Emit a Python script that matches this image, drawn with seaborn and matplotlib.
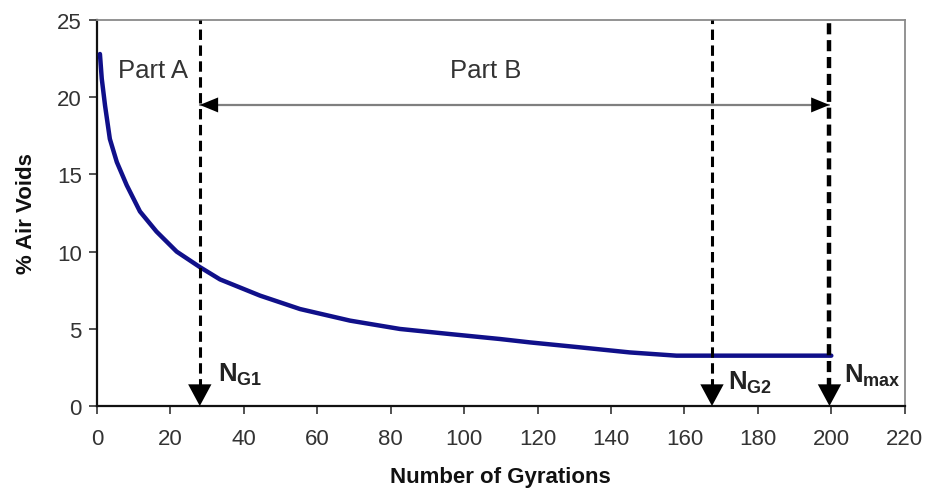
import matplotlib
matplotlib.use("Agg")
import matplotlib.pyplot as plt
import seaborn as sns
import pandas as pd

# ---- data ----
gyrations = [0.8, 1.3, 2.2, 3.5, 5.4, 8.1, 11.7, 16.2, 21.7, 28.0, 33.5, 44.4,
             55.3, 68.9, 82.5, 96.1, 109.7, 117.9, 131.5, 145.1, 157.8, 200.0]
air_voids = [22.8, 21.2, 19.45, 17.3, 15.8, 14.3, 12.6, 11.3, 10.0, 9.0, 8.2, 7.15,
             6.28, 5.53, 4.99, 4.66, 4.34, 4.12, 3.80, 3.47, 3.26, 3.26]
x_ticks = [0, 20, 40, 60, 80, 100, 120, 140, 160, 180, 200, 220]
y_ticks = [0, 5, 10, 15, 20, 25]
marker_pos = [28, 167.5, 199.5]          # N_G1, N_G2, N_max
marker_labels = [r"$\mathbf{N_{G1}}$", r"$\mathbf{N_{G2}}$", r"$\mathbf{N_{max}}$"]
part_labels = ["Part A", "Part B"]
part_arrow_y = 19.5

sns.set_theme(style="white")
plt.rcParams["font.family"] = ["Liberation Sans", "DejaVu Sans"]
plt.rcParams["mathtext.fontset"] = "custom"
plt.rcParams["mathtext.rm"] = "Liberation Sans"
plt.rcParams["mathtext.bf"] = "Liberation Sans:bold"
plt.rcParams["mathtext.it"] = "Liberation Sans:italic"

df = pd.DataFrame({"Number of Gyrations": gyrations, "% Air Voids": air_voids})

fig = plt.figure(figsize=(9.29, 4.89), dpi=100)
ax = fig.add_axes([0.1044, 0.1677, 0.8695, 0.7893])

sns.lineplot(data=df, x="Number of Gyrations", y="% Air Voids", ax=ax,
             color="#10108a", linewidth=3.2, zorder=3)

ax.set_xlim(0, 220)
ax.set_ylim(0, 25)
ax.set_xticks(x_ticks)
ax.set_yticks(y_ticks)

# dashed verticals + down arrow heads
lws = [2.2, 2.2, 3.2]
for xp, lw in zip(marker_pos, lws):
    ax.plot([xp, xp], [1.1, 25], color="black", lw=lw,
            linestyle=(0, (3.4, 1.8)) if lw < 3 else (0, (2.5, 1.3)), zorder=4)
    ax.annotate("", xy=(xp, 0), xytext=(xp, 1.6),
                arrowprops=dict(arrowstyle="-|>,head_length=1.3,head_width=0.7",
                                color="black", lw=0, shrinkA=0, shrinkB=0),
                zorder=5)

# horizontal Part B arrow
ax.plot([marker_pos[0], marker_pos[2]], [part_arrow_y, part_arrow_y],
        color="#7f7f7f", lw=1.6, zorder=2)
for tip, tail in [(marker_pos[0], marker_pos[0] + 6), (marker_pos[2], marker_pos[2] - 6)]:
    ax.annotate("", xy=(tip, part_arrow_y), xytext=(tail, part_arrow_y),
                arrowprops=dict(arrowstyle="-|>,head_length=1.1,head_width=0.45",
                                color="black", lw=0, shrinkA=0, shrinkB=0),
                zorder=5)

# texts
ax.text(5.7, 21.3, part_labels[0], fontsize=18.5, color="#333333", ha="left", va="baseline")
ax.text(106, 21.3, part_labels[1], fontsize=18.5, color="#333333", ha="center", va="baseline")
ax.text(marker_pos[0] + 5, 1.6, marker_labels[0], fontsize=18.5, color="#222222", va="baseline")
ax.text(marker_pos[1] + 4.3, 1.1, marker_labels[1], fontsize=18.5, color="#222222", va="baseline")
ax.text(marker_pos[2] + 4, 1.55, marker_labels[2], fontsize=18.5, color="#222222", va="baseline")

ax.set_xlabel("Number of Gyrations", fontsize=16, fontweight="bold", labelpad=12, color="#111111")
ax.set_ylabel("% Air Voids", fontsize=16, fontweight="bold", labelpad=14, color="#111111")

ax.tick_params(axis="both", labelsize=16, colors="#333333", direction="out",
               length=6, width=1.2)
ax.tick_params(axis="x", pad=10, bottom=True)
ax.tick_params(axis="y", pad=5, left=True)

for s in ["left", "bottom"]:
    ax.spines[s].set_color("#111111")
    ax.spines[s].set_linewidth(1.6)
for s in ["top", "right"]:
    ax.spines[s].set_color("#8a8a8a")
    ax.spines[s].set_linewidth(1.3)
    ax.spines[s].set_visible(True)

fig.savefig("out.png", dpi=100)
